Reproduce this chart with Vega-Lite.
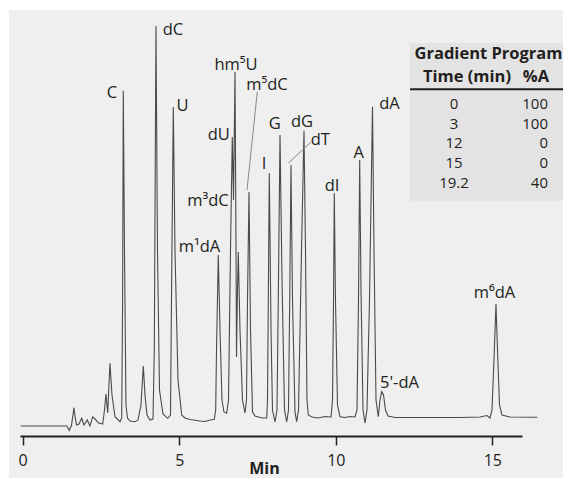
{
  "$schema": "https://vega.github.io/schema/vega-lite/v6.json",
  "width": 554,
  "height": 468,
  "autosize": {"type": "none"},
  "padding": {"left": 9, "top": 10, "right": 0, "bottom": 0},
  "background": "white",
  "config": {
    "view": {"fill": "#efefef", "stroke": null},
    "font": "Open Sans",
    "text": {"font": "Open Sans", "color": "#231f20"}
  },
  "datasets": {
    "trace": [
      {"t": -0.064, "s": 0}, {"t": 1.405, "s": 0}, {"t": 1.488, "s": -4.5}, {"t": 1.559, "s": 1},
      {"t": 1.638, "s": 18.3}, {"t": 1.686, "s": 6}, {"t": 1.725, "s": 1}, {"t": 1.798, "s": 2},
      {"t": 1.884, "s": 7.7}, {"t": 1.958, "s": 1}, {"t": 2.063, "s": 6}, {"t": 2.149, "s": 0},
      {"t": 2.236, "s": 9.3}, {"t": 2.309, "s": 7}, {"t": 2.415, "s": 3.3}, {"t": 2.555, "s": 2},
      {"t": 2.613, "s": 16}, {"t": 2.66, "s": 32}, {"t": 2.715, "s": 13}, {"t": 2.788, "s": 62.7},
      {"t": 2.852, "s": 31}, {"t": 2.948, "s": 9.3}, {"t": 3.108, "s": 4.3},
      {"t": 3.162, "s": 8}, {"t": 3.191, "s": 126}, {"t": 3.213, "s": 335.3}, {"t": 3.251, "s": 176},
      {"t": 3.299, "s": 21}, {"t": 3.347, "s": 8}, {"t": 3.427, "s": 5}, {"t": 3.587, "s": 4.3},
      {"t": 3.683, "s": 6}, {"t": 3.778, "s": 21}, {"t": 3.852, "s": 60}, {"t": 3.906, "s": 31},
      {"t": 3.97, "s": 11}, {"t": 4.066, "s": 6},
      {"t": 4.162, "s": 7}, {"t": 4.203, "s": 76}, {"t": 4.257, "s": 400}, {"t": 4.305, "s": 176},
      {"t": 4.369, "s": 36}, {"t": 4.481, "s": 12}, {"t": 4.631, "s": 7.7},
      {"t": 4.721, "s": 11}, {"t": 4.752, "s": 126}, {"t": 4.81, "s": 319}, {"t": 4.864, "s": 176},
      {"t": 4.96, "s": 46}, {"t": 5.078, "s": 11}, {"t": 5.184, "s": 8}, {"t": 5.343, "s": 6.5},
      {"t": 5.663, "s": 5}, {"t": 5.822, "s": 4.5}, {"t": 5.982, "s": 6}, {"t": 6.119, "s": 6.5},
      {"t": 6.164, "s": 16}, {"t": 6.19, "s": 76}, {"t": 6.247, "s": 171}, {"t": 6.302, "s": 96},
      {"t": 6.365, "s": 26}, {"t": 6.429, "s": 14}, {"t": 6.515, "s": 12.7},
      {"t": 6.573, "s": 26}, {"t": 6.637, "s": 176}, {"t": 6.694, "s": 289}, {"t": 6.733, "s": 226},
      {"t": 6.781, "s": 354}, {"t": 6.813, "s": 176}, {"t": 6.829, "s": 69},
      {"t": 6.854, "s": 126}, {"t": 6.886, "s": 174}, {"t": 6.94, "s": 96}, {"t": 7.02, "s": 26},
      {"t": 7.1, "s": 13},
      {"t": 7.148, "s": 26}, {"t": 7.18, "s": 126}, {"t": 7.228, "s": 234}, {"t": 7.276, "s": 96},
      {"t": 7.34, "s": 14}, {"t": 7.419, "s": 10}, {"t": 7.643, "s": 8}, {"t": 7.793, "s": 8},
      {"t": 7.819, "s": 26}, {"t": 7.876, "s": 252.7}, {"t": 7.931, "s": 96}, {"t": 7.978, "s": 16},
      {"t": 8.058, "s": 4},
      {"t": 8.122, "s": 16}, {"t": 8.17, "s": 146}, {"t": 8.218, "s": 291}, {"t": 8.282, "s": 146},
      {"t": 8.362, "s": 16}, {"t": 8.432, "s": 4},
      {"t": 8.489, "s": 16}, {"t": 8.528, "s": 126}, {"t": 8.569, "s": 261}, {"t": 8.617, "s": 126},
      {"t": 8.697, "s": 14}, {"t": 8.751, "s": 4.3},
      {"t": 8.809, "s": 16}, {"t": 8.905, "s": 176}, {"t": 8.984, "s": 295.3}, {"t": 9.032, "s": 176},
      {"t": 9.08, "s": 26}, {"t": 9.122, "s": 11}, {"t": 9.24, "s": 9}, {"t": 9.432, "s": 8},
      {"t": 9.655, "s": 9.5}, {"t": 9.847, "s": 9},
      {"t": 9.895, "s": 26}, {"t": 9.927, "s": 126}, {"t": 9.952, "s": 232.7}, {"t": 9.99, "s": 126},
      {"t": 10.054, "s": 21}, {"t": 10.134, "s": 9.3}, {"t": 10.294, "s": 8.5}, {"t": 10.453, "s": 9.5},
      {"t": 10.613, "s": 9},
      {"t": 10.677, "s": 16}, {"t": 10.725, "s": 126}, {"t": 10.763, "s": 266}, {"t": 10.805, "s": 136},
      {"t": 10.869, "s": 16}, {"t": 10.933, "s": 3},
      {"t": 10.996, "s": 16}, {"t": 11.076, "s": 126}, {"t": 11.172, "s": 319.3}, {"t": 11.22, "s": 176},
      {"t": 11.284, "s": 26}, {"t": 11.357, "s": 9.3},
      {"t": 11.412, "s": 26}, {"t": 11.466, "s": 34.3}, {"t": 11.524, "s": 31}, {"t": 11.587, "s": 16},
      {"t": 11.667, "s": 10}, {"t": 11.891, "s": 8.5}, {"t": 12.689, "s": 8.5}, {"t": 13.967, "s": 8.5},
      {"t": 14.606, "s": 9}, {"t": 14.829, "s": 10.5}, {"t": 14.925, "s": 8},
      {"t": 14.989, "s": 16}, {"t": 15.052, "s": 66}, {"t": 15.116, "s": 122}, {"t": 15.165, "s": 76},
      {"t": 15.228, "s": 21}, {"t": 15.308, "s": 11}, {"t": 15.564, "s": 9}, {"t": 16.436, "s": 8.7}
    ],
    "labels": [
      {"t": 2.852, "s": 333, "label": "C"},
      {"t": 4.8, "s": 396, "label": "dC"},
      {"t": 5.104, "s": 320, "label": "U"},
      {"t": 6.26, "s": 291.5, "label": "dU"},
      {"t": 6.813, "s": 361, "label": "hm⁵U"},
      {"t": 7.803, "s": 341, "label": "m⁵dC"},
      {"t": 8.049, "s": 302, "label": "G"},
      {"t": 7.707, "s": 262.5, "label": "I"},
      {"t": 5.918, "s": 225, "label": "m³dC"},
      {"t": 5.647, "s": 179, "label": "m¹dA"},
      {"t": 8.921, "s": 304.5, "label": "dG"},
      {"t": 9.505, "s": 286, "label": "dT"},
      {"t": 9.879, "s": 240, "label": "dI"},
      {"t": 10.735, "s": 273.5, "label": "A"},
      {"t": 11.715, "s": 322, "label": "dA"},
      {"t": 12.034, "s": 43, "label": "5'-dA"},
      {"t": 15.069, "s": 133, "label": "m⁶dA"}
    ],
    "leaders": [
      {"t": 7.493, "s": 334.3, "t2": 7.164, "s2": 236},
      {"t": 9.208, "s": 284, "t2": 8.489, "s2": 263}
    ],
    "box": [
      {"t": 12.37, "s": 383, "t2": 17.3, "s2": 225.3}
    ],
    "tableRule": [
      {"t": 12.37, "s": 336.7, "t2": 17.3}
    ],
    "table": [
      {"t": 14.877, "s": 372, "text": "Gradient Program", "col": "h"},
      {"t": 14.19, "s": 349.3, "text": "Time (min)", "col": "h"},
      {"t": 16.81, "s": 349.3, "text": "%A", "col": "hr"},
      {"t": 13.775, "s": 322, "text": "0", "col": "c1"},
      {"t": 13.775, "s": 302.3, "text": "3", "col": "c1"},
      {"t": 13.775, "s": 282.6, "text": "12", "col": "c1"},
      {"t": 13.775, "s": 262.9, "text": "15", "col": "c1"},
      {"t": 13.775, "s": 243.2, "text": "19.2", "col": "c1"},
      {"t": 16.778, "s": 322, "text": "100", "col": "c2"},
      {"t": 16.778, "s": 302.3, "text": "100", "col": "c2"},
      {"t": 16.778, "s": 282.6, "text": "0", "col": "c2"},
      {"t": 16.778, "s": 262.9, "text": "0", "col": "c2"},
      {"t": 16.778, "s": 243.2, "text": "40", "col": "c2"}
    ]
  },
  "layer": [
    {
      "data": {"name": "box"},
      "mark": {"type": "rect", "fill": "#e3e3e3", "clip": false},
      "encoding": {
        "x": {"field": "t", "type": "quantitative",
          "scale": {"domain": [-0.086, 15.947], "range": [11, 513], "nice": false, "zero": false},
          "axis": {
            "title": "Min", "values": [0, 5, 10, 15], "offset": -42,
            "domainColor": "#222", "domainWidth": 2,
            "tickColor": "#222", "tickWidth": 1.5, "tickSize": 9,
            "labelFont": "Open Sans", "labelFontSize": 16, "labelColor": "#231f20",
            "labelBaseline": "middle", "labelPadding": 15, "labelFlush": false,
            "grid": false,
            "titleFont": "Open Sans", "titleFontSize": 16, "titleFontWeight": "bold", "titleColor": "#231f20",
            "titleBaseline": "alphabetic", "titleY": 37, "titleX": 255
          }
        },
        "x2": {"field": "t2"},
        "y": {"field": "s", "type": "quantitative",
          "scale": {"domain": [-10, 416], "range": [426, 0], "nice": false, "zero": false},
          "axis": null
        },
        "y2": {"field": "s2"}
      }
    },
    {
      "data": {"name": "trace"},
      "mark": {"type": "line", "color": "#4a4a4a", "strokeWidth": 1.1, "clip": false},
      "encoding": {
        "x": {"field": "t", "type": "quantitative"},
        "y": {"field": "s", "type": "quantitative"}
      }
    },
    {
      "data": {"name": "leaders"},
      "mark": {"type": "rule", "color": "#8a8a8a", "strokeWidth": 1},
      "encoding": {
        "x": {"field": "t", "type": "quantitative"},
        "y": {"field": "s", "type": "quantitative"},
        "x2": {"field": "t2"},
        "y2": {"field": "s2"}
      }
    },
    {
      "data": {"name": "tableRule"},
      "mark": {"type": "rule", "color": "#231f20", "strokeWidth": 2},
      "encoding": {
        "x": {"field": "t", "type": "quantitative"},
        "x2": {"field": "t2"},
        "y": {"field": "s", "type": "quantitative"}
      }
    },
    {
      "data": {"name": "labels"},
      "mark": {"type": "text", "fontSize": 16.5, "align": "center", "baseline": "middle"},
      "encoding": {
        "x": {"field": "t", "type": "quantitative"},
        "y": {"field": "s", "type": "quantitative"},
        "text": {"field": "label"}
      }
    },
    {
      "data": {"name": "table"},
      "transform": [{"filter": "datum.col === 'h'"}],
      "mark": {"type": "text", "fontSize": 16.5, "fontWeight": "bold", "align": "center", "baseline": "middle"},
      "encoding": {
        "x": {"field": "t", "type": "quantitative"},
        "y": {"field": "s", "type": "quantitative"},
        "text": {"field": "text"}
      }
    },
    {
      "data": {"name": "table"},
      "transform": [{"filter": "datum.col === 'hr'"}],
      "mark": {"type": "text", "fontSize": 16.5, "fontWeight": "bold", "align": "right", "baseline": "middle"},
      "encoding": {
        "x": {"field": "t", "type": "quantitative"},
        "y": {"field": "s", "type": "quantitative"},
        "text": {"field": "text"}
      }
    },
    {
      "data": {"name": "table"},
      "transform": [{"filter": "datum.col === 'c1'"}],
      "mark": {"type": "text", "fontSize": 15, "align": "center", "baseline": "middle"},
      "encoding": {
        "x": {"field": "t", "type": "quantitative"},
        "y": {"field": "s", "type": "quantitative"},
        "text": {"field": "text"}
      }
    },
    {
      "data": {"name": "table"},
      "transform": [{"filter": "datum.col === 'c2'"}],
      "mark": {"type": "text", "fontSize": 15, "align": "right", "baseline": "middle"},
      "encoding": {
        "x": {"field": "t", "type": "quantitative"},
        "y": {"field": "s", "type": "quantitative"},
        "text": {"field": "text"}
      }
    }
  ]
}
